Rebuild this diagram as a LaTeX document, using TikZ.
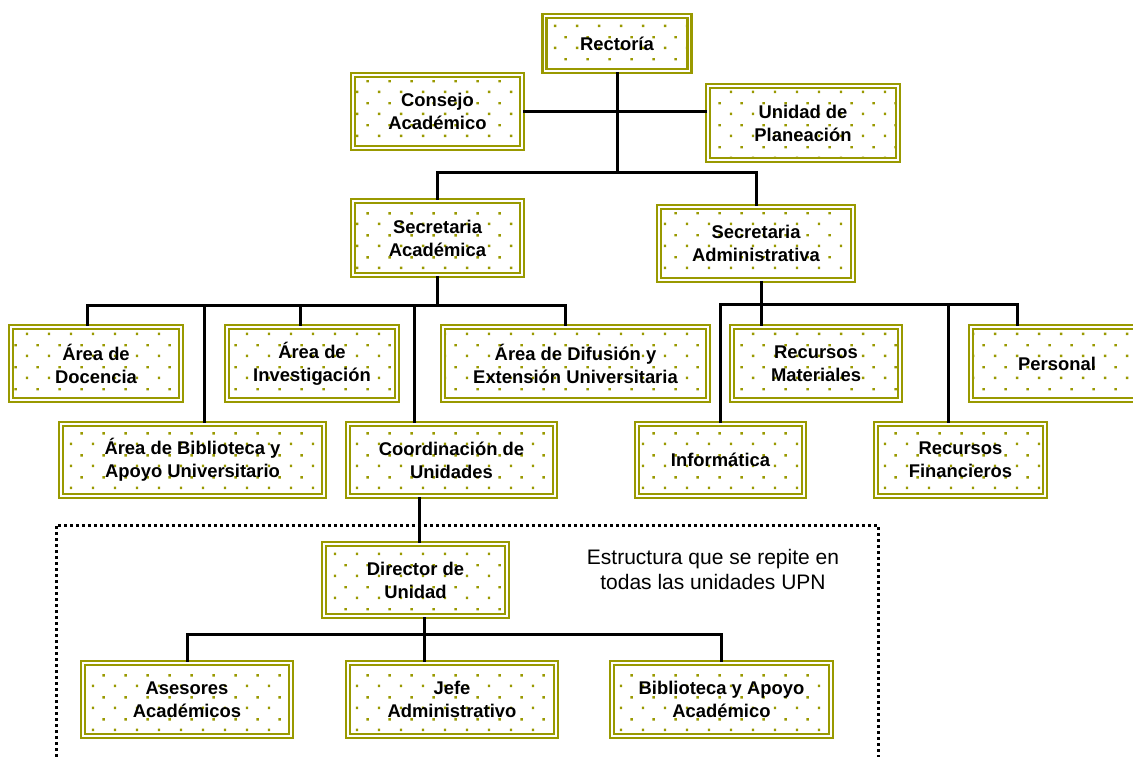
\documentclass[tikz,border=0pt]{standalone}
\usepackage{fontspec}
\setmainfont{Liberation Sans}
\usetikzlibrary{patterns.meta}

\definecolor{boxolive}{RGB}{153,153,0}

\tikzdeclarepattern{
  name=olivedots,
  type=uncolored,
  bounding box={(0pt,0pt) and (22pt,22pt)},
  tile size={(22pt,22pt)},
  code={
    \fill (4pt,4pt) rectangle (6.5pt,6.5pt);
    \fill (15pt,15pt) rectangle (17.5pt,17.5pt);
  }
}

\tikzset{
  unitbox/.style={draw=boxolive, line width=2.2pt, double=white, double distance=1.8pt,
    pattern=olivedots, pattern color=boxolive, align=center, inner sep=0pt,
    font=\fontsize{18.4}{23}\selectfont\bfseries},
  orgline/.style={line width=3pt, black},
  notetext/.style={align=center, inner sep=0pt, font=\fontsize{21}{24.5}\selectfont}
}

\begin{document}
\begin{tikzpicture}[x=1pt,y=-1pt]
\useasboundingbox (0,0) rectangle (1133,757);

% upper levels
\node[unitbox, minimum width=145, minimum height=55] (rectoria) at (617,43.5) {Rectoría};
\node[unitbox, minimum width=169, minimum height=73] (consejo) at (437.5,111.5) {Consejo\\Académico};
\node[unitbox, minimum width=190, minimum height=74] (planeacion) at (803,123) {Unidad de\\Planeación};
\node[unitbox, minimum width=169, minimum height=74] (secacad) at (437.5,238) {Secretaria\\Académica};
\node[unitbox, minimum width=194, minimum height=73] (secadmin) at (756,243.5) {Secretaria\\Administrativa};

% areas
\node[unitbox, minimum width=170, minimum height=73] (docencia) at (96,363.5) {Área de\\Docencia};
\node[unitbox, minimum width=170, minimum height=73] (investigacion) at (312,363.5) {Área de\\Investigación};
\node[unitbox, minimum width=265, minimum height=73] (difusion) at (575.5,363.5) {Área de Difusión y\\Extensión Universitaria};
\node[unitbox, minimum width=168, minimum height=73] (recmat) at (816,363.5) {Recursos\\Materiales};
\node[unitbox, minimum width=172, minimum height=73] (personal) at (1057,363.5) {Personal};
\node[unitbox, minimum width=263, minimum height=72] (biblioteca) at (192.5,460) {Área de Biblioteca y\\Apoyo Universitario};
\node[unitbox, minimum width=207, minimum height=72] (coordinacion) at (451.5,460) {Coordinación de\\Unidades};
\node[unitbox, minimum width=167, minimum height=72] (informatica) at (720.5,460) {Informática};
\node[unitbox, minimum width=169, minimum height=72] (recfin) at (960.5,460) {Recursos\\Financieros};

% structure of each unit
\draw[line width=3pt, dash pattern=on 3pt off 3pt] (56,775) -- (56,525) -- (878,525) -- (878,775);
\node[notetext] (nota) at (713,569.5) {Estructura que se repite en\\todas las unidades UPN};
\node[unitbox, minimum width=183, minimum height=72] (director) at (415.5,580) {Director de\\Unidad};
\node[unitbox, minimum width=208, minimum height=73] (asesores) at (187,699.5) {Asesores\\Académicos};
\node[unitbox, minimum width=208, minimum height=73] (jefe) at (452,699.5) {Jefe\\Administrativo};
\node[unitbox, minimum width=219, minimum height=73] (bibacad) at (721.5,699.5) {Biblioteca y Apoyo\\Académico};

% connectors
\coordinate (bar1) at (617,173);
\coordinate (bar2) at (437.5,305);
\coordinate (bar3) at (761,304);
\coordinate (bar4) at (424,634);

\draw[orgline] (rectoria.south) -- (bar1);
\draw[orgline] (consejo.east) -- (consejo.east -| planeacion.west);
\draw[orgline] (secacad.north) |- (bar1) -| (secadmin.north);

\draw[orgline] (secacad.south) -- (bar2);
\draw[orgline] ([xshift=-9pt]docencia.north) |- (bar2) -| ([xshift=-10.5pt]difusion.north);
\foreach \xx/\nn in {204/biblioteca,300/investigacion,414/coordinacion}
  \draw[orgline] (\xx,305) coordinate (drop) -- (drop |- \nn.north);

\draw[orgline] ([xshift=5pt]secadmin.south) -- ([xshift=-55pt]recmat.north);
\draw[orgline] ([xshift=-0.5pt]informatica.north) |- (bar3) -| ([xshift=-40pt]personal.north);
\draw[orgline] (948,304) coordinate (drop) -- (drop |- recfin.north);

\draw[orgline] ([xshift=-32.5pt]coordinacion.south) coordinate (drop) -- (drop |- director.north);
\draw[orgline] ([xshift=8.5pt]director.south) -- ([xshift=-28pt]jefe.north);
\draw[orgline] (asesores.north) |- (bar4) -| (bibacad.north);

\end{tikzpicture}
\end{document}
